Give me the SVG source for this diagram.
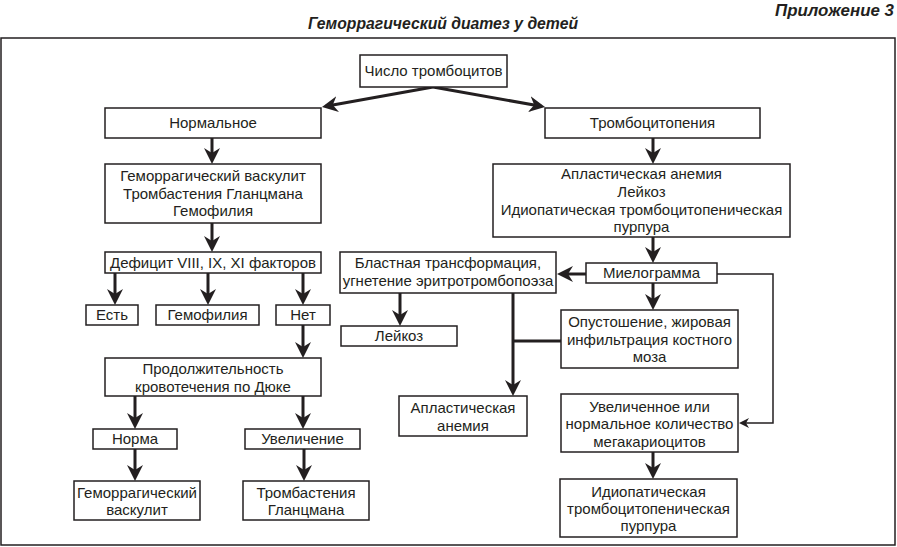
<svg xmlns="http://www.w3.org/2000/svg" width="897" height="547" viewBox="0 0 897 547">
<defs>
<style>
.bx{fill:#fff;stroke:#231f20;stroke-width:1.5}
.t{font-family:"Liberation Sans",Arial,sans-serif;font-size:15px;fill:#231f20;text-anchor:middle}
.h{font-family:"Liberation Sans",Arial,sans-serif;font-size:16px;font-weight:bold;font-style:italic;fill:#231f20}
.c{fill:none;stroke:#231f20;stroke-width:3}
.ct{fill:none;stroke:#231f20;stroke-width:1.5}
</style>
<marker id="ah" markerUnits="userSpaceOnUse" viewBox="0 0 16 16" markerWidth="16" markerHeight="16" refX="12" refY="8" orient="auto">
<path d="M0,0 L16,8 L0,16 L5,8 z" fill="#231f20"/>
</marker>
<marker id="ahs" markerUnits="userSpaceOnUse" viewBox="0 0 10 10" markerWidth="10" markerHeight="10" refX="8" refY="5" orient="auto">
<path d="M0,0 L10,5 L0,10 L3,5 z" fill="#231f20"/>
</marker>
</defs>
<rect width="897" height="547" fill="#fff"/>
<text class="h" x="775" y="16" textLength="119" lengthAdjust="spacingAndGlyphs">Приложение 3</text>
<text class="h" x="308" y="29" textLength="270" lengthAdjust="spacingAndGlyphs">Геморрагический диатез у детей</text>
<rect x="1" y="38" width="894" height="507" fill="none" stroke="#231f20" stroke-width="1.5"/>

<g id="connectors">
<path class="c" d="M433,87 L325.9,106.3" marker-end="url(#ah)"/>
<path class="c" d="M433,87 L541.1,106.3" marker-end="url(#ah)"/>
<path class="c" d="M212,138 V160" marker-end="url(#ah)"/>
<path class="c" d="M212,223 V248" marker-end="url(#ah)"/>
<path class="c" d="M115,273 V301" marker-end="url(#ah)"/>
<path class="c" d="M208,273 V301" marker-end="url(#ah)"/>
<path class="c" d="M303,273 V301" marker-end="url(#ah)"/>
<path class="c" d="M303,325 V354" marker-end="url(#ah)"/>
<path class="c" d="M135,396 V425" marker-end="url(#ah)"/>
<path class="c" d="M303,396 V425" marker-end="url(#ah)"/>
<path class="c" d="M135,449 V477" marker-end="url(#ah)"/>
<path class="c" d="M304,449 V477" marker-end="url(#ah)"/>
<path class="c" d="M653,138 V160" marker-end="url(#ah)"/>
<path class="c" d="M653,237 V259" marker-end="url(#ah)"/>
<path class="c" d="M653,283 V306" marker-end="url(#ah)"/>
<path class="c" d="M653,452 V475" marker-end="url(#ah)"/>
<path class="c" d="M586,274 H561" marker-end="url(#ah)"/>
<path class="c" d="M400,293 V322" marker-end="url(#ah)"/>
<path class="c" d="M513,293 V392" marker-end="url(#ah)"/>
<path class="c" d="M561,341 H513"/>
<path class="ct" d="M717,274 H773 V423 H741" marker-end="url(#ahs)"/>
</g>

<g id="n_count"><rect class="bx" x="360" y="55" width="147" height="32"/><text class="t" x="433.5" y="76">Число тромбоцитов</text></g>
<g id="n_normal"><rect class="bx" x="105" y="108" width="216" height="30"/><text class="t" x="213" y="128">Нормальное</text></g>
<g id="n_thrombocytopenia"><rect class="bx" x="545" y="108" width="215" height="30"/><text class="t" x="652.5" y="128">Тромбоцитопения</text></g>
<g id="n_vasc_group"><rect class="bx" x="105" y="164" width="216" height="59"/>
<text class="t" x="213" y="181">Геморрагический васкулит</text>
<text class="t" x="213" y="198.5">Тромбастения Гланцмана</text>
<text class="t" x="213" y="216">Гемофилия</text></g>
<g id="n_deficit"><rect class="bx" x="105" y="252" width="216" height="21"/><text class="t" x="213" y="268">Дефицит VIII, IX, XI факторов</text></g>
<g id="n_est"><rect class="bx" x="86" y="305" width="52" height="20"/><text class="t" x="112" y="320">Есть</text></g>
<g id="n_hemophilia"><rect class="bx" x="156" y="305" width="103" height="20"/><text class="t" x="207.5" y="320">Гемофилия</text></g>
<g id="n_net"><rect class="bx" x="276" y="305" width="54" height="20"/><text class="t" x="303" y="320">Нет</text></g>
<g id="n_duration"><rect class="bx" x="105" y="358" width="216" height="38"/>
<text class="t" x="213" y="374">Продолжительность</text>
<text class="t" x="213" y="392">кровотечения по Дюке</text></g>
<g id="n_norm"><rect class="bx" x="93" y="429" width="84" height="20"/><text class="t" x="135" y="444">Норма</text></g>
<g id="n_increase"><rect class="bx" x="245" y="429" width="115" height="20"/><text class="t" x="302.5" y="444">Увеличение</text></g>
<g id="n_hv"><rect class="bx" x="74" y="481" width="126" height="39"/>
<text class="t" x="137" y="498">Геморрагический</text>
<text class="t" x="137" y="515">васкулит</text></g>
<g id="n_glanzmann"><rect class="bx" x="243" y="481" width="126" height="39"/>
<text class="t" x="306" y="498">Тромбастения</text>
<text class="t" x="306" y="515">Гланцмана</text></g>
<g id="n_aplastic_group"><rect class="bx" x="493" y="164" width="297" height="73"/>
<text class="t" x="641.5" y="179">Апластическая анемия</text>
<text class="t" x="641.5" y="197">Лейкоз</text>
<text class="t" x="641.5" y="215">Идиопатическая тромбоцитопеническая</text>
<text class="t" x="641.5" y="232">пурпура</text></g>
<g id="n_myelogram"><rect class="bx" x="586" y="263" width="131" height="20"/><text class="t" x="651.5" y="278">Миелограмма</text></g>
<g id="n_blast"><rect class="bx" x="340" y="252" width="216" height="41"/>
<text class="t" x="448" y="268">Бластная трансформация,</text>
<text class="t" x="448" y="286">угнетение эритротромбопоэза</text></g>
<g id="n_leukosis"><rect class="bx" x="341" y="326" width="116" height="20"/><text class="t" x="399" y="341">Лейкоз</text></g>
<g id="n_aplastic"><rect class="bx" x="399" y="396" width="128" height="40"/>
<text class="t" x="463" y="413">Апластическая</text>
<text class="t" x="463" y="431">анемия</text></g>
<g id="n_emptying"><rect class="bx" x="561" y="310" width="177" height="58"/>
<text class="t" x="649.5" y="327">Опустошение, жировая</text>
<text class="t" x="649.5" y="345">инфильтрация костного</text>
<text class="t" x="649.5" y="362">моза</text></g>
<g id="n_megak"><rect class="bx" x="561" y="394" width="177" height="58"/>
<text class="t" x="649.5" y="412">Увеличенное или</text>
<text class="t" x="649.5" y="429">нормальное количество</text>
<text class="t" x="649.5" y="447">мегакариоцитов</text></g>
<g id="n_itp"><rect class="bx" x="560" y="479" width="177" height="58"/>
<text class="t" x="648.5" y="497">Идиопатическая</text>
<text class="t" x="648.5" y="514">тромбоцитопеническая</text>
<text class="t" x="648.5" y="531">пурпура</text></g>
</svg>
